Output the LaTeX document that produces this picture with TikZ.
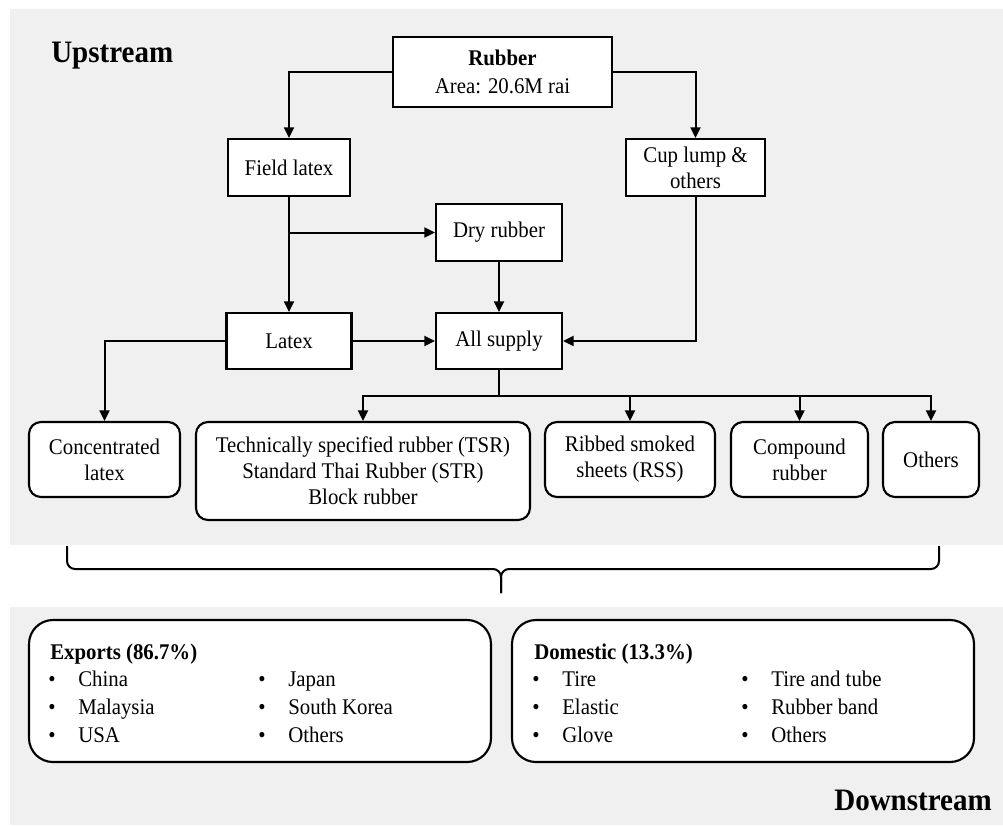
\documentclass[tikz,border=0pt]{standalone}
\usepackage{fontspec}
\setmainfont{Liberation Serif}[FakeStretch=0.93]
\usetikzlibrary{arrows.meta}
\definecolor{panel}{RGB}{240,240,240}
\begin{document}
\begin{tikzpicture}[x=0.75pt,y=-0.75pt,
  font=\fontsize{16.8}{19.5}\selectfont,
  sq/.style={draw, line width=1.6pt, fill=white, align=center, inner sep=1pt},
  rbox/.style={sq, rounded corners=9pt},
  arr/.style={line width=1.5pt, -{Triangle[length=8pt,width=7.5pt]}},
  ln/.style={line width=1.5pt},
  item/.style={anchor=base west, inner sep=0pt},
  head/.style={anchor=base west, inner sep=0pt, font=\fontsize{23.4}{26}\selectfont\bfseries}]
\useasboundingbox (0,0) rectangle (1003,825);
\fill[panel] (10,9) rectangle (1003,545);
\fill[panel] (10,607) rectangle (1003,825);

\node[head] (up) at (51,62) {Upstream};
\node[head, anchor=base east] (down) at (992,810) {Downstream};

\node[sq, minimum width=164.25pt, minimum height=52.5pt] (rubber) at (502.5,72) {\textbf{Rubber}\\[2pt]Area: 20.6M rai};
\node[sq, minimum width=91.5pt, minimum height=42.75pt] (field) at (289,167.5) {Field latex};
\node[sq, minimum width=104.25pt, minimum height=42.75pt] (cup) at (695.5,167.5) {Cup lump \&\\others};
\node[sq, minimum width=94.5pt, minimum height=42.75pt] (dry) at (499,232.5) {Dry rubber};
\node[sq, minimum width=93.75pt, minimum height=42pt] (latex) at (289,341) {Latex};
\node[sq, minimum width=94.5pt, minimum height=42pt] (all) at (499,341) {All supply};

\node[rbox, minimum width=113.25pt, minimum height=56.25pt] (conc) at (104.5,459.5) {Concentrated\\latex};
\node[rbox, minimum width=250.5pt, minimum height=73.5pt] (tsr) at (363,471) {Technically specified rubber (TSR)\\Standard Thai Rubber (STR)\\Block rubber};
\node[rbox, minimum width=127.5pt, minimum height=56.25pt] (rss) at (630,459.5) {Ribbed smoked\\sheets (RSS)};
\node[rbox, minimum width=102.75pt, minimum height=56.25pt] (comp) at (799.5,459.5) {Compound\\rubber};
\node[rbox, minimum width=72pt, minimum height=56.25pt] (oth) at (931,459.5) {Others};

\draw[arr] (rubber.west) -| (field.north);
\draw[arr] (rubber.east) -| (cup.north);
\draw[arr] (field.south) -- (latex.north);
\draw[arr] (field.south |- dry.west) -- (dry.west);
\draw[arr] (dry.south) -- (all.north);
\draw[arr] (latex.east) -- (all.west);
\draw[arr] (cup.south) |- (all.east);
\draw[arr] (latex.west) -| (conc.north);
\coordinate (hub) at (499,396);
\draw[ln] (all.south) -- (hub);
\draw[arr] (hub) -| (tsr.north);
\draw[arr] (hub) -| (rss.north);
\draw[arr] (hub) -| (comp.north);
\draw[arr] (hub) -| (oth.north);

% brace
\coordinate (bl) at (67,546);
\coordinate (br) at (939,546);
\coordinate (bt) at (501,593);
\draw[ln, rounded corners=6pt] (bl) -- (67,569) -- (501,569) -- (bt);
\draw[ln, rounded corners=6pt] (br) -- (939,569) -- (501,569) -- (bt);

% downstream boxes
\node[draw, line width=1.6pt, fill=white, rounded corners=18pt, minimum width=346.5pt, minimum height=106.5pt] (exp) at (260,691) {};
\node[draw, line width=1.6pt, fill=white, rounded corners=18pt, minimum width=346.5pt, minimum height=106.5pt] (dom) at (743,691) {};

\node[item, font=\fontsize{16.8}{19.5}\selectfont\bfseries] (et) at (50,659) {Exports (86.7\%)};
\node[item] (e1) at (78,686) {\llap{\textbullet\hspace{17pt}}China};
\node[item] (e2) at (78,714) {\llap{\textbullet\hspace{17pt}}Malaysia};
\node[item] (e3) at (78,742) {\llap{\textbullet\hspace{17pt}}USA};
\node[item] (e4) at (288,686) {\llap{\textbullet\hspace{17pt}}Japan};
\node[item] (e5) at (288,714) {\llap{\textbullet\hspace{17pt}}South Korea};
\node[item] (e6) at (288,742) {\llap{\textbullet\hspace{17pt}}Others};

\node[item, font=\fontsize{16.8}{19.5}\selectfont\bfseries] (dt) at (534,659) {Domestic (13.3\%)};
\node[item] (d1) at (562,686) {\llap{\textbullet\hspace{17pt}}Tire};
\node[item] (d2) at (562,714) {\llap{\textbullet\hspace{17pt}}Elastic};
\node[item] (d3) at (562,742) {\llap{\textbullet\hspace{17pt}}Glove};
\node[item] (d4) at (771,686) {\llap{\textbullet\hspace{17pt}}Tire and tube};
\node[item] (d5) at (771,714) {\llap{\textbullet\hspace{17pt}}Rubber band};
\node[item] (d6) at (771,742) {\llap{\textbullet\hspace{17pt}}Others};
\end{tikzpicture}
\end{document}
